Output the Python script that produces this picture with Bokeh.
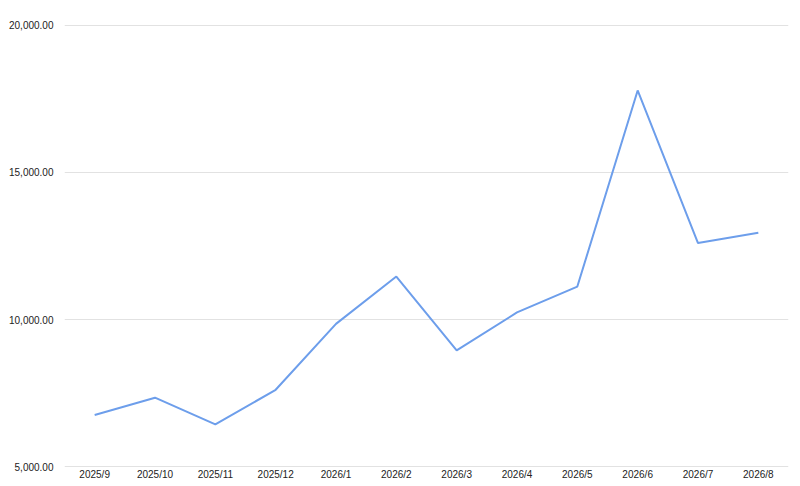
from bokeh.plotting import figure
from bokeh.models import FixedTicker, NumeralTickFormatter, Range1d
from bokeh.embed import file_html
from bokeh.resources import INLINE

months = ["2025/9", "2025/10", "2025/11", "2025/12", "2026/1", "2026/2",
          "2026/3", "2026/4", "2026/5", "2026/6", "2026/7", "2026/8"]
values = [6750, 7340, 6430, 7610, 9850, 11460,
          8950, 10240, 11120, 17790, 12600, 12950]
y_ticks = [5000, 10000, 15000, 20000]

p = figure(x_range=months, y_range=Range1d(4966, 20034),
           width=790, height=482, output_backend="svg", toolbar_location=None,
           min_border_left=64, min_border_right=2, min_border_top=24, min_border_bottom=0)
p.x_range.range_padding = 0
p.outline_line_color = None
p.background_fill_color = "white"
p.border_fill_color = "white"

p.line(months, values, line_color="#6d9eeb", line_width=2)

p.yaxis.ticker = FixedTicker(ticks=y_ticks)
p.yaxis.formatter = NumeralTickFormatter(format="0,0.00")
for ax in (p.xaxis, p.yaxis):
    ax.axis_line_color = None
    ax.major_tick_line_color = None
    ax.minor_tick_line_color = None
    ax.major_label_text_font = "Liberation Sans"
    ax.major_label_text_font_size = "10px"
    ax.major_label_text_color = "#222222"
p.yaxis.major_label_standoff = 5
p.xaxis.major_label_standoff = -5
p.xgrid.grid_line_color = None
p.ygrid.grid_line_color = "#e2e2e2"
p.ygrid.grid_line_width = 1

open("out.html", "w").write(file_html(p, INLINE))
